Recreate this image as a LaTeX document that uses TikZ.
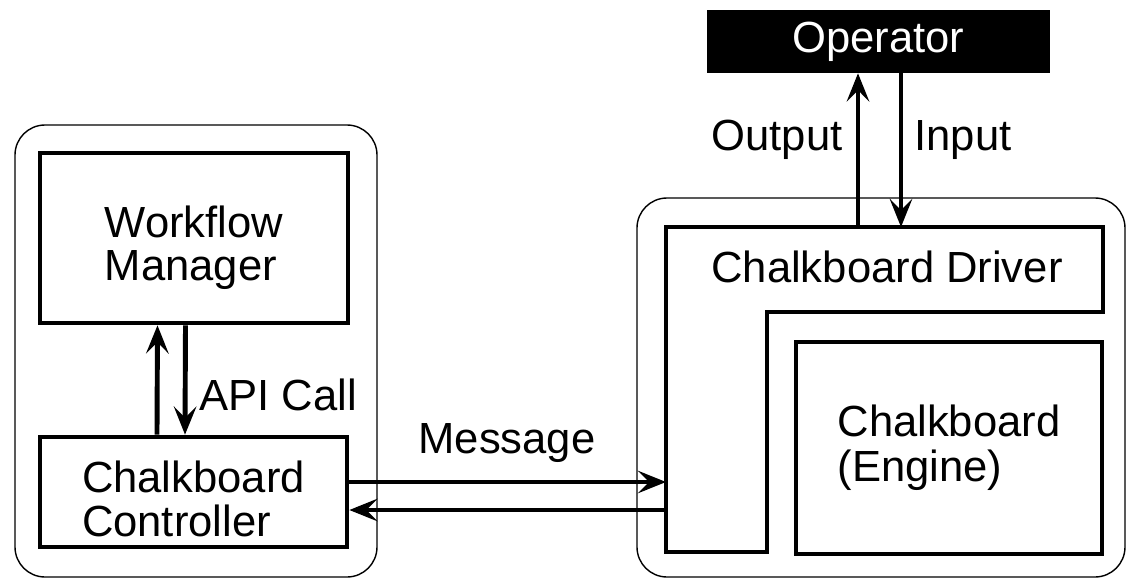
\documentclass[tikz,border=0pt]{standalone}
\usepackage{fontspec}
\setmainfont{Liberation Sans}
\usetikzlibrary{arrows.meta}

\begin{document}
\begin{tikzpicture}[x=0.025cm, y=-0.025cm,
    box/.style={draw, line width=3.3pt, inner sep=0pt, align=left, font=\fontsize{31}{30}\selectfont},
    container/.style={draw, line width=1pt, rounded corners=0.75cm},
    lbl/.style={font=\fontsize{31}{35}\selectfont, inner sep=0pt},
    flow/.style={line width=3.5pt, -{Stealth[length=20pt,width=16pt,inset=8pt]}}]
    \useasboundingbox (0,0) rectangle (1127,579);

    % Containers
    \draw[container] (15,125) rectangle (377,577);
    \draw[container] (637,198) rectangle (1125,577);

    % Left side
    \node[box, minimum width=7.7cm, minimum height=4.25cm] (wm) at (194,238)
        {\raisebox{-0.5cm}[0pt][0pt]{\begin{tabular}{@{}l@{}}Workflow\\Manager\end{tabular}}};
    \node[box, minimum width=7.675cm, minimum height=2.75cm] (cc) at (193.5,492)
        {\raisebox{-0.55cm}[0pt][0pt]{\begin{tabular}{@{}l@{}}Chalkboard\\Controller\end{tabular}}};

    % Operator
    \node[box, fill=black, text=white, minimum width=8.475cm, minimum height=1.475cm] (op) at (878.5,41.5) {Operator};

    % Chalkboard Driver (L shape)
    \coordinate (dNW) at (666,227);
    \coordinate (dSW) at (666,552);
    \coordinate (dout) at (858,227);
    \coordinate (din) at (901,227);
    \draw[line width=3.3pt] (dNW) -- (1103,227) -- (1103,312) -- (767,312) -- (767,552) -- (dSW) -- cycle;
    \node[lbl] (drv) at (887,267) {Chalkboard Driver};

    % Engine
    \node[box, font=\fontsize{31}{32}\selectfont, minimum width=7.65cm, minimum height=5.3cm] (eng) at (949,448) {Chalkboard\\(Engine)};

    % API calls
    \draw[flow] ([xshift=-0.9125cm]cc.north) -- ([xshift=-0.9125cm]wm.south);
    \draw[flow] ([xshift=-0.2125cm]wm.south) -- ([xshift=-0.2125cm]cc.north);
    \node[lbl] (api) at (278,395) {API Call};

    % Messages
    \coordinate (m1) at ([yshift=0.25cm]cc.east);
    \coordinate (m2) at ([yshift=-0.45cm]cc.east);
    \draw[flow] (m1) -- (m1 -| dNW);
    \draw[flow] (m2 -| dNW) -- (m2);
    \node[lbl] (msg) at (507,443) {Message};

    % Operator I/O
    \draw[flow] (dout) -- (dout |- op.south);
    \draw[flow] (din |- op.south) -- (din);
    \node[lbl] (outlbl) at (777,140) {Output};
    \node[lbl] (inlbl) at (963,140) {Input};
\end{tikzpicture}
\end{document}
